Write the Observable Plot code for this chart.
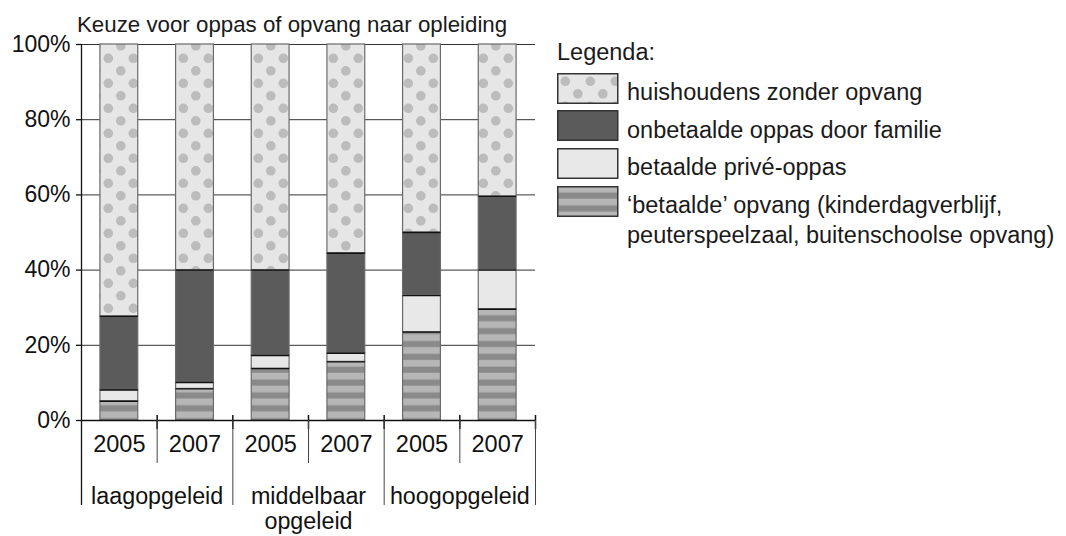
<!DOCTYPE html>
<html>
<head>
<meta charset="utf-8">
<script src="https://cdn.jsdelivr.net/npm/d3@7"></script>
<script src="https://cdn.jsdelivr.net/npm/@observablehq/plot@0.6"></script>
<style>
  body { margin: 0; background: #fff; font-family: "Liberation Sans", Arial, sans-serif; color: #1a1a1a; }
  #wrap { position: relative; width: 1066px; height: 536px; overflow: hidden; }
  #chart { position: absolute; left: 0; top: 0; }
  #title { position: absolute; left: 77px; top: 13.7px; font-size: 22.3px; line-height: 22.3px; white-space: nowrap; }
  #legendHead { position: absolute; left: 557px; top: 40.5px; font-size: 23.5px; line-height: 23.5px; white-space: nowrap; }
  .lrow { position: absolute; left: 557px; height: 30px; }
  .lrow svg { position: absolute; left: 0; top: 0; }
  .lrow .ltext { position: absolute; left: 70px; top: 0; padding-top: 4.3px; font-size: 23.5px; line-height: 30px; white-space: pre; }
</style>
</head>
<body>
<svg width="0" height="0" style="position:absolute">
  <defs>
    <pattern id="dots" patternUnits="userSpaceOnUse" width="25" height="25">
      <rect width="25" height="25" fill="#e6e6e6"/>
      <circle cx="8.3" cy="8.3" r="4.8" fill="#bcbcbc"/>
      <circle cx="20.8" cy="20.8" r="4.8" fill="#bcbcbc"/>
      <circle cx="-4.2" cy="20.8" r="4.8" fill="#bcbcbc"/>
      <circle cx="20.8" cy="-4.2" r="4.8" fill="#bcbcbc"/>
      <circle cx="-4.2" cy="-4.2" r="4.8" fill="#bcbcbc"/>
    </pattern>
    <pattern id="stripes" patternUnits="userSpaceOnUse" width="10" height="12.86">
      <rect width="10" height="12.86" fill="#b6b6b6"/>
      <rect y="6.6" width="10" height="6.1" fill="#8a8a8a"/>
    </pattern>
  </defs>
</svg>
<div id="wrap">
  <div id="chart"></div>
  <div id="title">Keuze voor oppas of opvang naar opleiding</div>
  <div id="legendHead">Legenda:</div>
</div>
<script>
// ---- data ----
const groups = ["laagopgeleid", "middelbaar\nopgeleid", "hoogopgeleid"];
const years = ["2005", "2007"];
const seriesNames = [
  "‘betaalde’ opvang (kinderdagverblijf,\npeuterspeelzaal, buitenschoolse opvang)",
  "betaalde privé-oppas",
  "onbetaalde oppas door familie",
  "huishoudens zonder opvang"
];
// values per bar: laag 2005, laag 2007, middel 2005, middel 2007, hoog 2005, hoog 2007 (%)
const opvang    = [5.1, 8.4, 13.8, 15.6, 23.5, 29.6];
const prive     = [3.0, 1.7, 3.5, 2.3, 9.7, 10.4];
const onbetaald = [19.6, 29.9, 22.7, 26.6, 16.8, 19.6];
const zonder    = [72.3, 60.0, 60.0, 55.5, 50.0, 40.4];
const yTicks = [0, 20, 40, 60, 80, 100];
const fills = ["url(#stripes)", "#e8e8e8", "#5b5b5b", "url(#dots)"];
const legendOrder = [3, 2, 1, 0];

// ---- build table ----
const seriesValues = [opvang, prive, onbetaald, zonder];
const bars = [];
groups.forEach((g, gi) => years.forEach((y, yi) => bars.push({group: g, year: y, i: gi * years.length + yi})));
const rows = [];
bars.forEach(b => {
  let acc = 0;
  seriesNames.forEach((s, si) => {
    const v = seriesValues[si][b.i];
    rows.push({i: b.i, series: s, y1: acc, y2: acc + v});
    acc += v;
  });
});
const bounds = bars.map(b => ({x: b.i + 1, groupEnd: (b.i + 1) % years.length === 0}));

const pxPerUnit = 376 / 100;
const u = px => px / pxPerUnit;

const plot = Plot.plot({
  width: 1066,
  height: 536,
  marginLeft: 81,
  marginRight: 531,
  marginTop: 44,
  marginBottom: 116,
  x: {domain: [0, bars.length], axis: null},
  y: {domain: [0, 100]},
  color: {type: "ordinal", domain: seriesNames, range: fills},
  style: {fontFamily: "Liberation Sans, Arial, sans-serif", fontSize: "23px", color: "#111", background: "transparent", overflow: "visible"},
  marks: [
    Plot.ruleY(yTicks.filter(t => t > 0), {stroke: "#333", strokeWidth: 1}),
    Plot.rectY(rows, {
      x1: d => d.i + 0.25, x2: d => d.i + 0.75, y1: "y1", y2: "y2",
      fill: "series", stroke: "#6a6a6a", strokeWidth: 1.2
    }),
    Plot.ruleY(rows.filter(r => r.y1 > 0), {y: "y1", x1: d => d.i + 0.25, x2: d => d.i + 0.75, stroke: "#111", strokeWidth: 1.4}),
    Plot.ruleY([0], {stroke: "#111", strokeWidth: 1.4}),
    Plot.ruleX([0], {y1: () => -u(85), y2: 100, stroke: "#111", strokeWidth: 1.3}),
    Plot.axisY({ticks: yTicks, tickFormat: d => d + "%", tickSize: 5, tickPadding: 6, fontSize: 23, label: null, strokeWidth: 1.3}),
    Plot.ruleX(bounds, {x: "x", y1: () => u(5), y2: () => -u(9), stroke: "#111", strokeWidth: 1.5}),
    Plot.ruleX(bounds, {x: "x", y1: 0, y2: d => d.groupEnd ? -u(85) : -u(43), stroke: "#444", strokeWidth: 1}),
    Plot.text(bars, {x: d => d.i + 0.5, y: () => -u(14.4), text: "year", lineAnchor: "top", fontSize: 23.5, fill: "#111"}),
    Plot.text(groups, {x: (d, i) => i * years.length + years.length / 2, y: () => -u(65.5), text: d => d, lineAnchor: "top", lineHeight: 1.07, fontSize: 23.3, fill: "#111"})
  ]
});
document.getElementById("chart").appendChild(plot);

// ---- legend ----
const wrap = d3.select("#wrap");
legendOrder.forEach((si, k) => {
  const row = wrap.append("div").attr("class", "lrow").style("top", (72.7 + k * 37.7) + "px");
  const sw = row.append("svg").attr("width", 62).attr("height", 31);
  sw.append("rect").attr("x", 0.75).attr("y", 0.75).attr("width", 60).attr("height", 29.5)
    .attr("fill", fills[si]).attr("stroke", "#333").attr("stroke-width", 1.5);
  row.append("div").attr("class", "ltext").text(seriesNames[si]);
});
</script>
</body>
</html>
